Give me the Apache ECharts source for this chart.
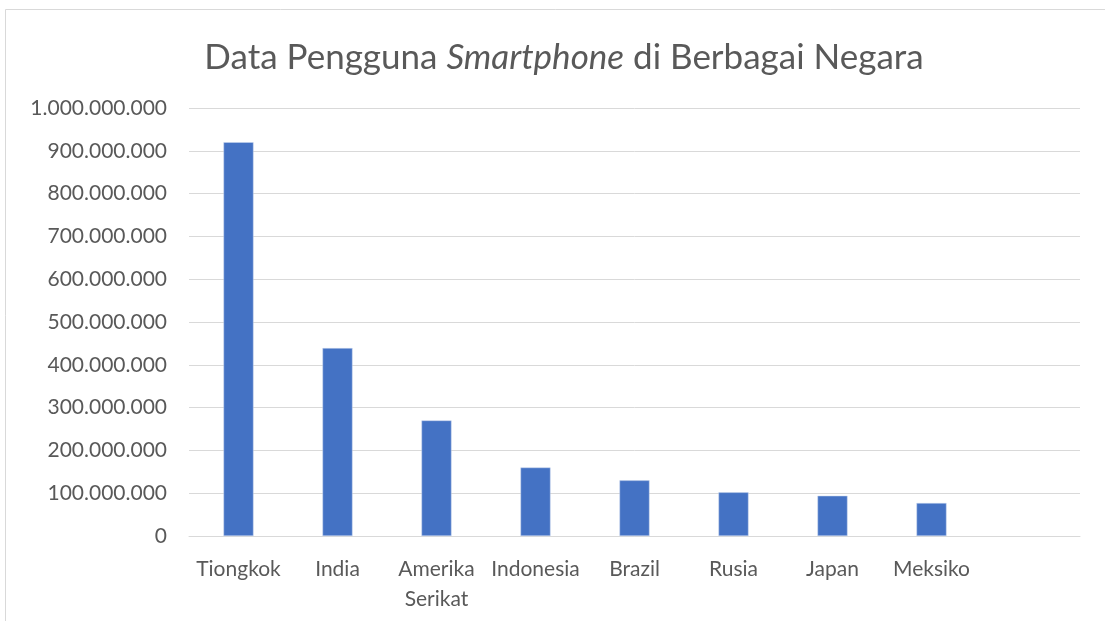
<!DOCTYPE html>
<html>
<head>
<meta charset="utf-8">
<script src="https://cdn.jsdelivr.net/npm/echarts@6/dist/echarts.min.js"></script>
<style>
  html, body { margin: 0; padding: 0; background: #fff; }
  #chart { width: 1105px; height: 621px; }
</style>
</head>
<body>
<div id="chart"></div>
<script>
// data pengguna smartphone
const negara = ['Tiongkok', 'India', 'Amerika Serikat', 'Indonesia', 'Brazil', 'Rusia', 'Japan', 'Meksiko', ''];
const pengguna = [920000000, 439000000, 270000000, 160000000, 130000000, 102000000, 94000000, 77000000, null];
const yMin = 0;
const yMax = 1000000000;
const yStep = 100000000;

const textColor = '#595959';
const lineColor = '#d9d9d9';
const fontName = 'Lato';

function formatTitik(v) {
  return String(v).replace(/\B(?=(\d{3})+(?!\d))/g, '.');
}

const chart = echarts.init(document.getElementById('chart'));
const option = {
  backgroundColor: '#fff',
  animation: false,
  title: {
    text: '{n|Data Pengguna }{i|Smartphone}{n| di Berbagai Negara}',
    left: 559,
    textAlign: 'center',
    top: 35,
    textStyle: {
      rich: {
        n: { fontFamily: fontName, fontSize: 35, fontWeight: 'normal', color: textColor },
        i: { fontFamily: fontName, fontSize: 35, fontWeight: 'normal', color: textColor, fontStyle: 'italic' }
      }
    }
  },
  graphic: [{
    type: 'rect',
    shape: { x: 5.5, y: 9.5, width: 1300, height: 800 },
    style: { fill: 'none', stroke: lineColor, lineWidth: 1 },
    silent: true
  }],
  grid: { left: 189, right: 25, top: 108, bottom: 85, containLabel: false },
  xAxis: {
    type: 'category',
    data: negara,
    axisTick: { show: false },
    axisLine: { lineStyle: { color: lineColor, width: 1 } },
    axisLabel: {
      color: textColor,
      fontFamily: fontName,
      fontSize: 21,
      margin: 18,
      lineHeight: 30,
      interval: 0,
      formatter: (v) => v.replace(' ', '\n')
    }
  },
  yAxis: {
    type: 'value',
    min: yMin,
    max: yMax,
    interval: yStep,
    axisLine: { show: false },
    axisTick: { show: false },
    splitLine: { lineStyle: { color: lineColor, width: 1 } },
    axisLabel: {
      color: textColor,
      fontFamily: fontName,
      fontSize: 21,
      margin: 22,
      formatter: (v) => formatTitik(v)
    }
  },
  series: [{
    type: 'bar',
    data: pengguna,
    barWidth: 30,
    itemStyle: { color: '#4472C4', borderColor: '#c9d6ee', borderWidth: 0.5 }
  }]
};
chart.setOption(option);
window.addEventListener('resize', () => chart.resize());
</script>
</body>
</html>
